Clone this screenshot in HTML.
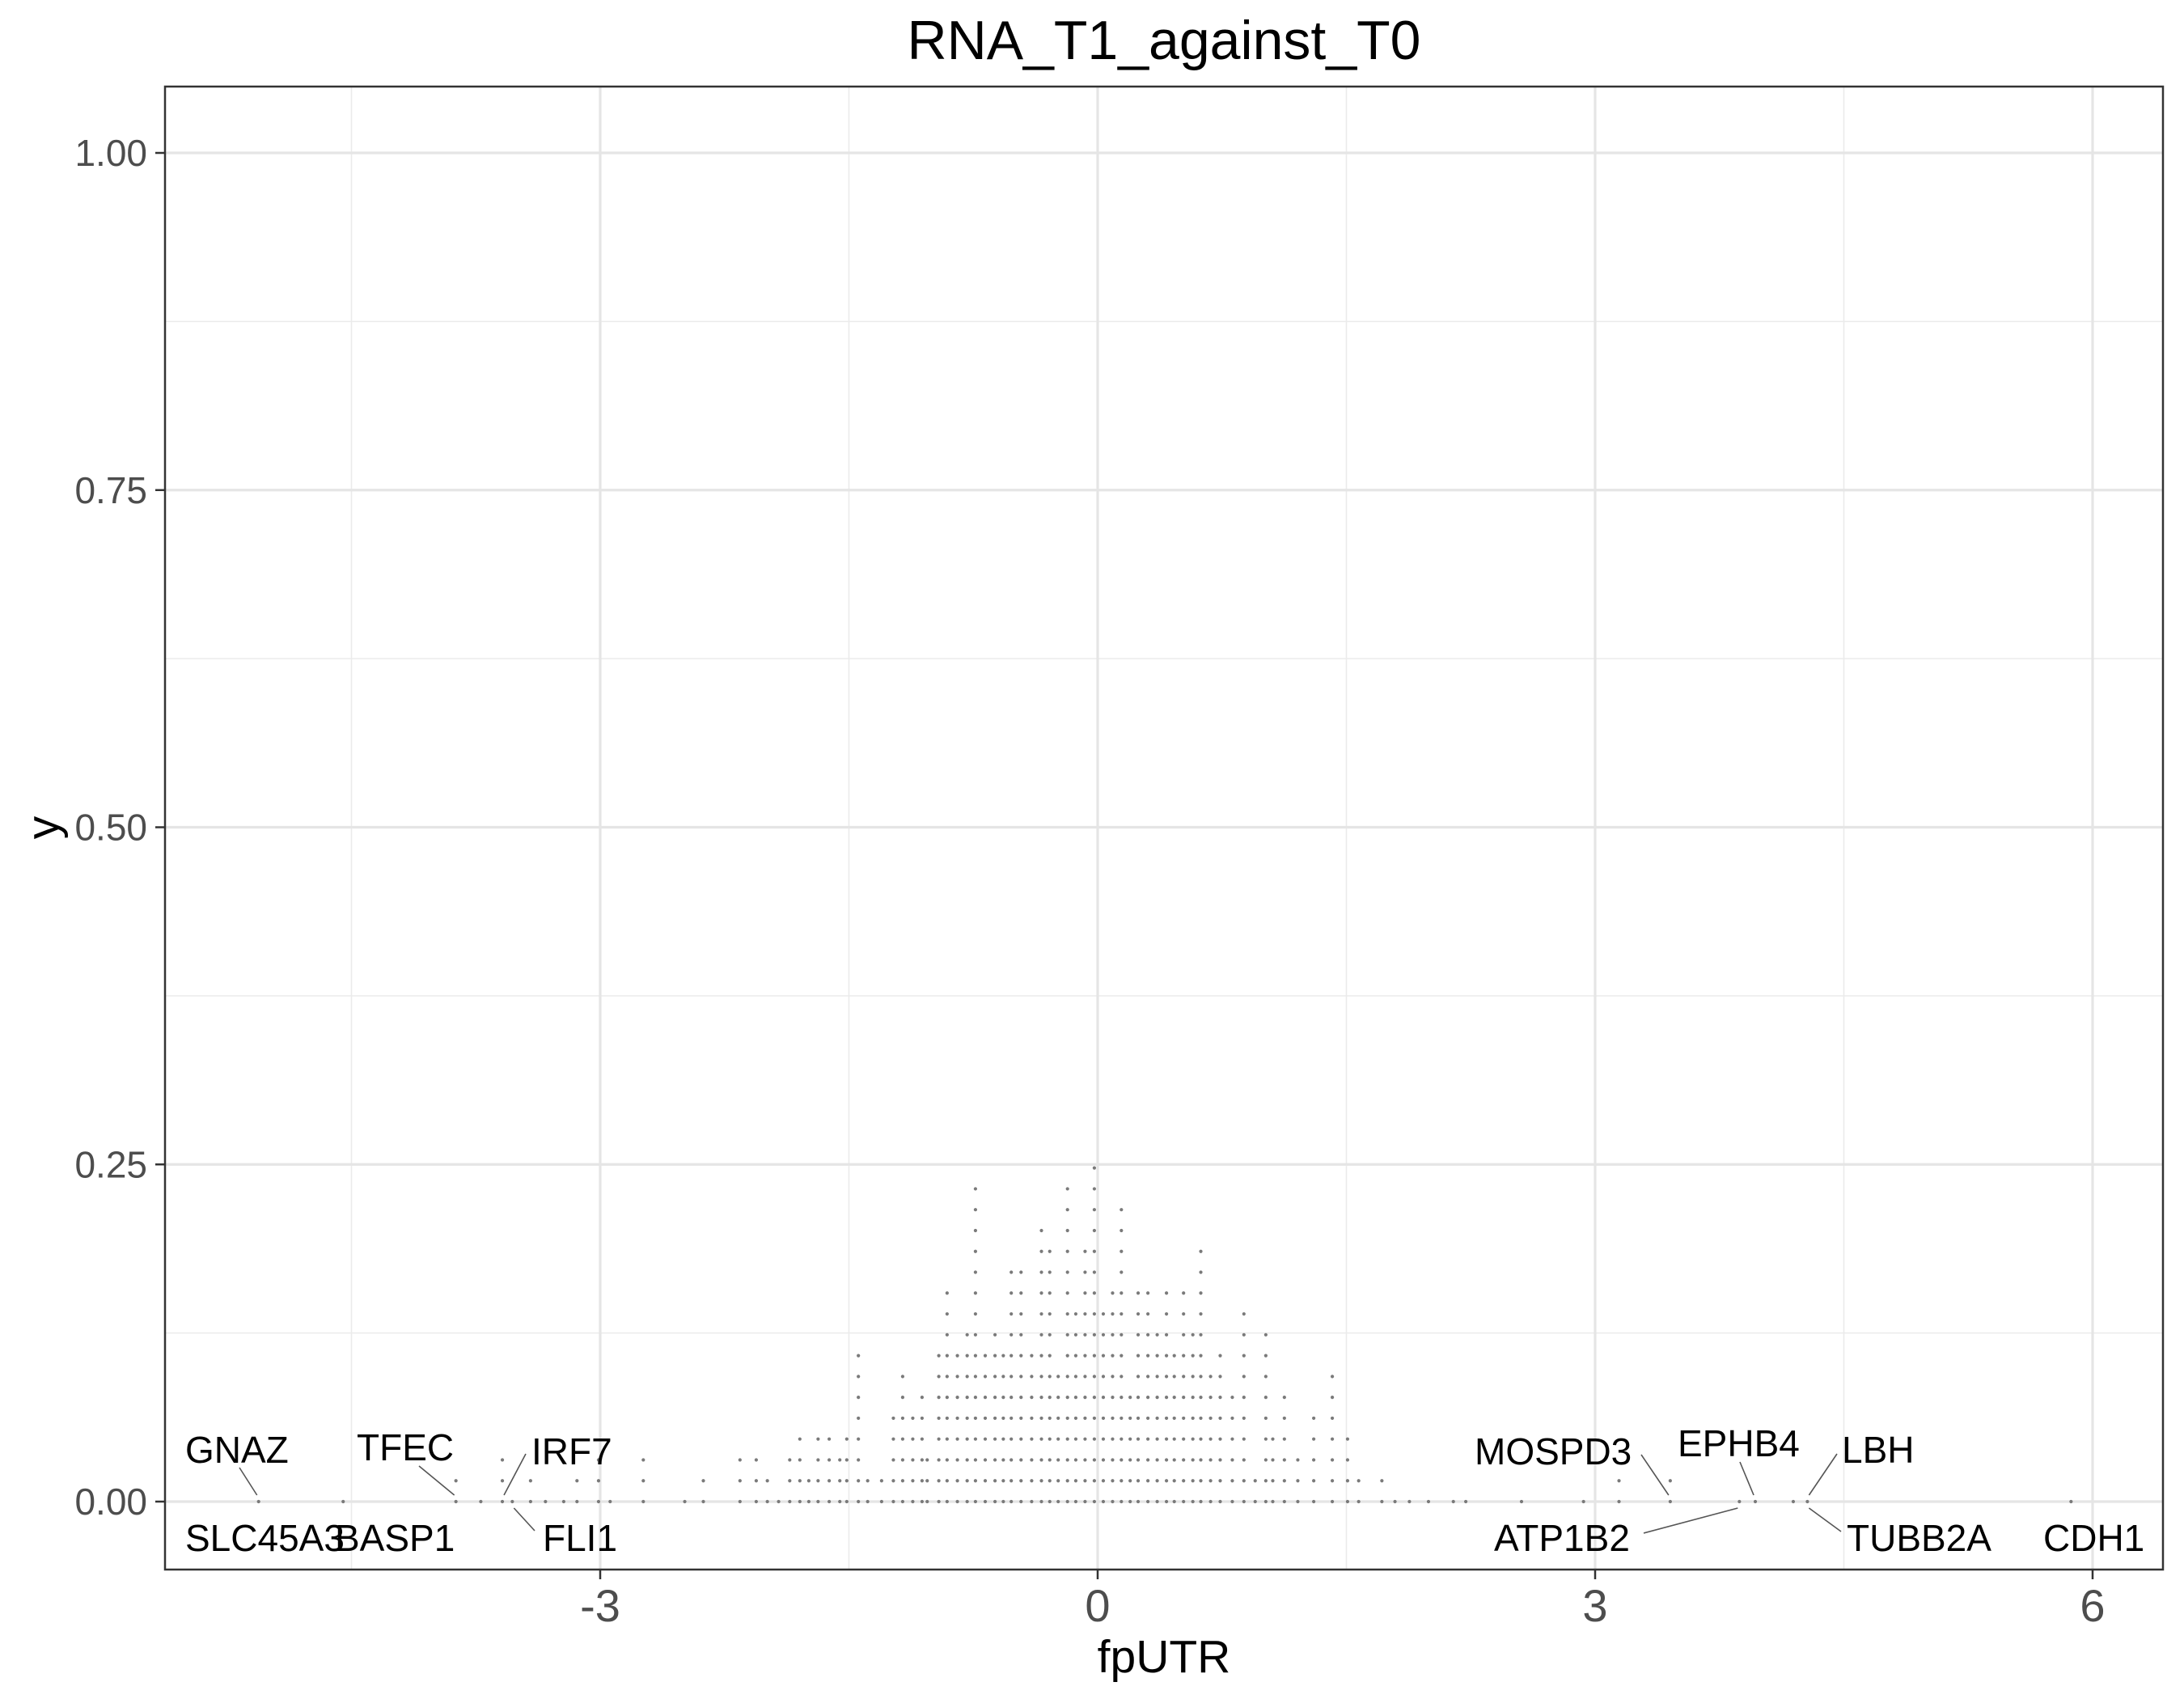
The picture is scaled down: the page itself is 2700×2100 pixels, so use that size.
<!DOCTYPE html>
<html><head><meta charset="utf-8"><style>
html,body{margin:0;padding:0;background:#fff;}
svg{display:block;font-family:"Liberation Sans",Arial,sans-serif;}
</style></head><body>
<svg id="chart" width="2700" height="2100" viewBox="0 0 2700 2100" xmlns="http://www.w3.org/2000/svg">
<rect width="2700" height="2100" fill="#fff"/>
<g id="grid"></g>
<g id="dots"></g>
<g id="labels"></g>
<rect x="204" y="107" width="2470" height="1833" fill="none" stroke="#333" stroke-width="2.5"/>
<g id="axes"></g>
<text x="1439" y="73" font-size="68" text-anchor="middle" fill="#000">RNA_T1_against_T0</text>
<text x="1439" y="2067" font-size="57" text-anchor="middle" fill="#000">fpUTR</text>
<text x="0" y="0" font-size="57" text-anchor="middle" fill="#000" transform="translate(72,1023) rotate(-90)">y</text>
</svg>
<script>
const colX = [-5.06,-4.55,-3.87,-3.72,-3.59,-3.53,-3.42,-3.33,-3.22,-3.14,-3.01,-2.94,-2.74,-2.49,
-2.378,-2.157,-2.059,-1.992,-1.924,-1.857,-1.796,-1.742,-1.686,-1.619,-1.555,-1.513,-1.443,-1.387,-1.303,-1.232,-1.176,-1.115,-1.059,-1.028,
-0.958,-0.908,-0.846,-0.787,-0.737,-0.678,-0.619,-0.569,-0.521,-0.462,-0.398,-0.339,-0.289,-0.238,-0.182,-0.132,-0.076,-0.020,
0.034,0.090,0.143,0.196,0.244,0.303,0.359,0.415,0.462,0.518,0.574,0.622,0.681,0.739,0.812,0.882,0.950,1.014,1.056,1.126,1.207,1.303,1.415,1.507,1.574,1.714,1.793,1.880,
1.995,2.145,2.22,2.556,2.93,3.144,3.453,3.87,3.966,4.195,4.28,5.87];
const colN = [1,1,2,1,3,1,2,1,1,2,3,1,3,1,
2,3,3,2,1,3,4,2,4,4,3,4,8,2,2,5,7,5,6,3,
8,11,8,9,16,8,9,8,12,12,8,14,13,7,16,10,13,17,
10,11,15,6,11,11,9,11,8,11,9,13,7,8,6,10,2,9,4,6,3,5,7,4,2,2,1,1,
1,1,1,1,1,2,2,1,1,1,1,1];
const xTicks = [-3,0,3,6];
const xTickLabels = ["-3","0","3","6"];
const xMinor = [-4.5,-1.5,1.5,4.5];
const yTicks = [0,0.25,0.5,0.75,1];
const yTickLabels = ["0.00","0.25","0.50","0.75","1.00"];
const yMinor = [0.125,0.375,0.625,0.875];
const stepY = 0.01546;
const geneNames = ["GNAZ","SLC45A3","BASP1","TFEC","IRF7","FLI1","MOSPD3","EPHB4","LBH","ATP1B2","TUBB2A","CDH1"];
const genePointX = [-5.06,-4.55,-3.72,-3.87,-3.59,-3.53,3.453,3.966,4.28,3.87,4.28,5.87];

const NS="http://www.w3.org/2000/svg";
const X = v => 1357 + 205*v;
const Y = v => 1856 - 1667*v;
function mk(tag, attrs, parent){const e=document.createElementNS(NS,tag);for(const k in attrs)e.setAttribute(k,attrs[k]);parent.appendChild(e);return e;}
const grid=document.getElementById('grid'), dots=document.getElementById('dots'), axes=document.getElementById('axes'), labels=document.getElementById('labels');
xMinor.forEach(v=>{const l=mk('line',{x1:X(v),x2:X(v),y1:107,y2:1940,stroke:'#EBEBEB','stroke-width':1.6},grid);

});
yMinor.forEach(v=>{const l=mk('line',{x1:204,x2:2674,y1:Y(v),y2:Y(v),stroke:'#EBEBEB','stroke-width':1.6},grid);

});
xTicks.forEach((v,i)=>{const l=mk('line',{x1:X(v),x2:X(v),y1:107,y2:1940,stroke:'#E5E5E5','stroke-width':3.2},grid);


const t=mk('line',{x1:X(v),x2:X(v),y1:1940,y2:1952,stroke:'#333','stroke-width':2.5},axes);


const tx=mk('text',{x:X(v),y:2004,'font-size':56,'text-anchor':'middle',fill:'#4D4D4D'},axes);tx.textContent=xTickLabels[i];

});
yTicks.forEach((v,i)=>{const l=mk('line',{x1:204,x2:2674,y1:Y(v),y2:Y(v),stroke:'#E5E5E5','stroke-width':3.2},grid);


const t=mk('line',{x1:192,x2:204,y1:Y(v),y2:Y(v),stroke:'#333','stroke-width':2.5},axes);


const tx=mk('text',{x:182,y:Y(v)+16,'font-size':46,'text-anchor':'end',fill:'#4D4D4D'},axes);tx.textContent=yTickLabels[i];

});
colX.forEach((v,i)=>{for(let k=0;k<colN[i];k++){const c=mk('circle',{cx:X(v),cy:Y(k*stepY),r:2.1,fill:'#7A7A7A'},dots);

}});
const labelLayout = [
 {tx:229,ty:1808,lx:296,ly:1814},
 {tx:229,ty:1917,lx:null},
 {tx:414,ty:1917,lx:null},
 {tx:441,ty:1805,lx:518,ly:1812},
 {tx:657,ty:1810,lx:650,ly:1797},
 {tx:671,ty:1917,lx:661,ly:1892},
 {tx:1823,ty:1810,lx:2029,ly:1798},
 {tx:2074,ty:1800,lx:2151,ly:1807},
 {tx:2277,ty:1808,lx:2271,ly:1797},
 {tx:1847,ty:1917,lx:2032,ly:1895},
 {tx:2283,ty:1917,lx:2276,ly:1893},
 {tx:2526,ty:1917,lx:null}
];
geneNames.forEach((g,i)=>{const L=labelLayout[i];
if(L.lx!==null){const px=X(genePointX[i]);const py=Y(0);const dy=L.ly<py?-8:8;
const ln=mk('line',{x1:L.lx,y1:L.ly,x2:px+(L.lx<px?-4:4)*0.5,y2:py+dy,stroke:'#555','stroke-width':1.6},labels);

}
const t=mk('text',{x:L.tx,y:L.ty,'font-size':46,fill:'#000'},labels);t.textContent=g;

});
</script>
</body></html>
